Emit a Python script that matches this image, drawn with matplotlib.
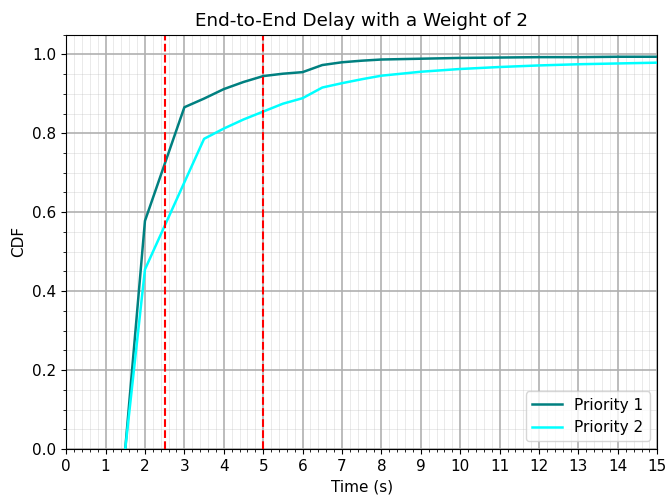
import numpy as np
import matplotlib.pyplot as plt
from matplotlib.ticker import MultipleLocator

plt.rcParams['font.size'] = 11

# Delay values (s) and CDF values
time_p1 = [1.5, 2.0, 3.0, 3.5, 4.0, 4.5, 5.0, 5.5, 6.0, 6.5, 7.0, 7.5, 8.0, 9.0, 10.0, 11.0, 12.0, 13.0, 14.0, 15.0]
cdf_p1 = [0.0, 0.578, 0.866, 0.888, 0.912, 0.930, 0.945, 0.951, 0.955, 0.973, 0.980, 0.984, 0.987, 0.989, 0.991, 0.992, 0.993, 0.993, 0.994, 0.994]

time_p2 = [1.5, 2.0, 3.5, 4.0, 4.5, 5.0, 5.5, 6.0, 6.5, 7.0, 7.5, 8.0, 9.0, 10.0, 11.0, 12.0, 13.0, 14.0, 15.0]
cdf_p2 = [0.0, 0.455, 0.786, 0.812, 0.835, 0.855, 0.875, 0.889, 0.916, 0.927, 0.937, 0.946, 0.956, 0.963, 0.968, 0.972, 0.975, 0.977, 0.979]

thresholds = [2.5, 5.0]

fig, ax = plt.subplots(figsize=(6.68, 4.95), dpi=100)
fig.subplots_adjust(left=0.099, right=0.984, top=0.93, bottom=0.093)

ax.plot(time_p1, cdf_p1, color='teal', lw=1.8, label='Priority 1')
ax.plot(time_p2, cdf_p2, color='cyan', lw=1.8, label='Priority 2')
for t in thresholds:
    ax.axvline(t, color='red', linestyle='--', lw=1.5)

ax.set_xlim(0, 15)
ax.set_ylim(0, 1.05)
ax.xaxis.set_major_locator(MultipleLocator(1))
ax.xaxis.set_minor_locator(MultipleLocator(0.2))
ax.yaxis.set_major_locator(MultipleLocator(0.2))
ax.yaxis.set_minor_locator(MultipleLocator(0.05))
ax.grid(which='major', color='#b0b0b0', lw=1.2)
ax.grid(which='minor', color='#b0b0b0', lw=0.6, alpha=0.3)

ax.set_title("End-to-End Delay with a Weight of 2")
ax.set_xlabel("Time (s)")
ax.set_ylabel("CDF")
ax.legend(loc='lower right')

fig.savefig('out.png', dpi=100)
